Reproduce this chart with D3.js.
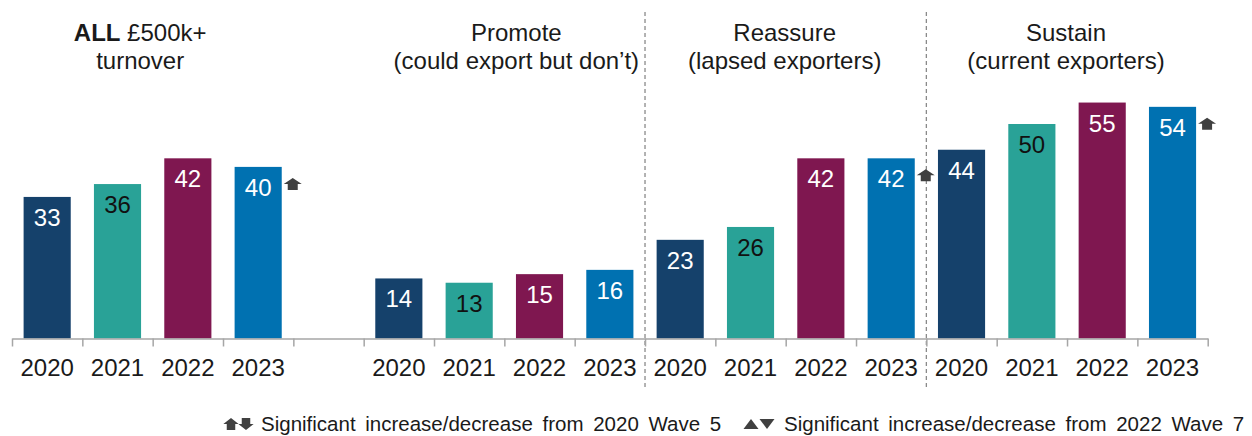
<!DOCTYPE html>
<html>
<head>
<meta charset="utf-8">
<script src="https://cdn.jsdelivr.net/npm/d3@7/dist/d3.min.js"></script>
<style>
  html, body { margin: 0; padding: 0; background: #ffffff; }
  svg { display: block; font-family: "Liberation Sans", Arial, sans-serif; }
</style>
</head>
<body>
<svg id="chart" width="1252" height="436"></svg>
<script>
// Years shown within each segment
const years = ["2020", "2021", "2022", "2023"];

// Segments, in display order
const segments = ["ALL", "Promote", "Reassure", "Sustain"];

// Segment headings (two lines each)
const headingLine1 = ["ALL £500k+", "Promote", "Reassure", "Sustain"];
const headingLine2 = ["turnover", "(could export but don’t)", "(lapsed exporters)", "(current exporters)"];

// Percentage values per segment, one per year
const valuesAll      = [33, 36, 42, 40];
const valuesPromote  = [14, 13, 15, 16];
const valuesReassure = [23, 26, 42, 42];
const valuesSustain  = [44, 50, 55, 54];

// Significant increase from 2020 Wave 5 (segment, year)
const sigUp2020 = [["ALL", "2023"], ["Reassure", "2023"], ["Sustain", "2023"]];

// Legend texts
const legendTexts = [
  "Significant increase/decrease from 2020 Wave 5",
  "Significant increase/decrease from 2022 Wave 7"
];

const seriesValues = [valuesAll, valuesPromote, valuesReassure, valuesSustain];

// Slot layout: ALL block, an empty spacer slot, then the three segments back to back
const slots = [];
segments.forEach((seg, si) => {
  years.forEach(y => slots.push(seg + "|" + y));
  if (si === 0) slots.push("gap");
});

const rows = [];
segments.forEach((seg, si) => {
  years.forEach((y, yi) => rows.push({ seg, year: y, yi, value: seriesValues[si][yi] }));
});

const yearColors = ["#15416b", "#29a297", "#7f1750", "#0071b1"];
const labelColors = ["#ffffff", "#111111", "#ffffff", "#ffffff"];

const svg = d3.select("#chart");

const x0 = 12, x1 = 1207.7, baseY = 338.5;

const x = d3.scaleBand()
  .domain(slots)
  .range([x0, x1])
  .paddingInner(0.33)
  .paddingOuter(0.165);

// Slot boundary scale used for the tick marks
const xb = d3.scaleLinear().domain([0, slots.length]).range([x0, x1]);

const y = d3.scaleLinear().domain([0, 60]).range([baseY, baseY - 60 * 4.29]);

// Dashed segment dividers
const dividerSlots = [slots.indexOf("Reassure|2020"), slots.indexOf("Sustain|2020")];
svg.append("g").selectAll("line")
  .data(dividerSlots)
  .join("line")
  .attr("x1", d => xb(d)).attr("x2", d => xb(d))
  .attr("y1", 12).attr("y2", 389)
  .attr("stroke", "#8a8a8a")
  .attr("stroke-width", 1.3)
  .attr("stroke-dasharray", "4,3");

// Bars
svg.append("g").selectAll("rect")
  .data(rows)
  .join("rect")
  .attr("x", d => x(d.seg + "|" + d.year))
  .attr("width", x.bandwidth())
  .attr("y", d => y(d.value))
  .attr("height", d => y(0) - y(d.value))
  .attr("fill", d => yearColors[d.yi]);

// Value labels inside bars
svg.append("g").selectAll("text")
  .data(rows)
  .join("text")
  .attr("x", d => x(d.seg + "|" + d.year) + x.bandwidth() / 2)
  .attr("y", d => y(d.value) + 29)
  .attr("text-anchor", "middle")
  .attr("font-size", 24)
  .attr("fill", d => labelColors[d.yi])
  .text(d => d.value);

// Axis with ticks on slot boundaries
const axis = d3.axisBottom(xb)
  .tickValues(d3.range(slots.length + 1))
  .tickSize(8)
  .tickSizeOuter(0)
  .tickFormat("");
const ax = svg.append("g").attr("transform", `translate(0,${baseY})`).call(axis);
ax.select(".domain").attr("stroke", "#a6a6a6").attr("stroke-width", 1.5);
ax.selectAll(".tick line").attr("stroke", "#a6a6a6").attr("stroke-width", 1.5);

// Year labels under each bar
svg.append("g").selectAll("text")
  .data(rows)
  .join("text")
  .attr("x", d => x(d.seg + "|" + d.year) + x.bandwidth() / 2)
  .attr("y", 376)
  .attr("text-anchor", "middle")
  .attr("font-size", 24)
  .attr("fill", "#1a1a1a")
  .text(d => d.year);

// Segment headings
const headingShift = [-12.5, 12, -1, -1];
const groupCenter = si => {
  const a = x(segments[si] + "|" + years[0]);
  const b = x(segments[si] + "|" + years[years.length - 1]) + x.bandwidth();
  return (a + b) / 2;
};
const headings = svg.append("g").attr("font-size", 24).attr("fill", "#1a1a1a");
segments.forEach((seg, si) => {
  const cx = groupCenter(si) + headingShift[si];
  const t1 = headings.append("text").attr("x", cx).attr("y", 41).attr("text-anchor", "middle");
  if (seg === "ALL") {
    t1.append("tspan").attr("font-weight", "bold").text("ALL");
    t1.append("tspan").text(headingLine1[si].slice(3));
  } else {
    t1.text(headingLine1[si]);
  }
  headings.append("text").attr("x", cx).attr("y", 69).attr("text-anchor", "middle").text(headingLine2[si]);
});

// Block arrow shapes (up pointing, centred at 0,0)
const upArrow = "M0,-6 L9,0 L5,0 L5,6 L-5,6 L-5,0 L-9,0 Z";
const downArrow = "M0,6 L9,0 L5,0 L5,-6 L-5,-6 L-5,0 L-9,0 Z";

// Significance markers beside bars
svg.append("g").selectAll("path")
  .data(sigUp2020)
  .join("path")
  .attr("d", upArrow)
  .attr("fill", "#404040")
  .attr("transform", d => {
    const row = rows.find(r => r.seg === d[0] && r.year === d[1]);
    const bx = x(row.seg + "|" + row.year) + x.bandwidth();
    return `translate(${bx + 11},${y(row.value) + 17})`;
  });

// Legend
const legend = svg.append("g").attr("font-size", 20.5).attr("fill", "#1a1a1a");
legend.append("path").attr("d", upArrow).attr("fill", "#404040").attr("transform", "translate(231,424) scale(0.85,1)");
legend.append("path").attr("d", downArrow).attr("fill", "#404040").attr("transform", "translate(246,424) scale(0.85,1)");
legend.append("text").attr("x", 261).attr("y", 431).attr("word-spacing", 4).text(legendTexts[0]);

legend.append("path").attr("d", "M-7.5,5 L0,-5 L7.5,5 Z").attr("fill", "#404040").attr("transform", "translate(751,424)");
legend.append("path").attr("d", "M-7.5,-5 L0,5 L7.5,-5 Z").attr("fill", "#404040").attr("transform", "translate(767,424)");
legend.append("text").attr("x", 784).attr("y", 431).attr("word-spacing", 4).text(legendTexts[1]);
</script>
</body>
</html>
